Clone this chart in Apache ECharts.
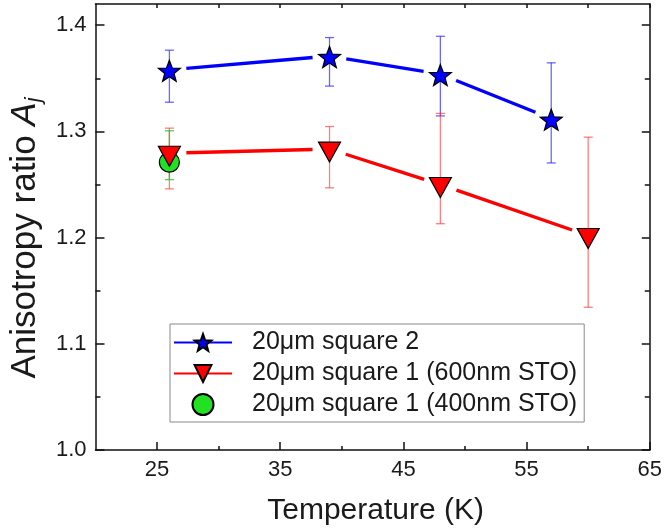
<!DOCTYPE html>
<html>
<head>
<meta charset="utf-8">
<script src="https://cdn.jsdelivr.net/npm/echarts@6/dist/echarts.min.js"></script>
<style>html,body{margin:0;padding:0;background:#fff;}#c{width:665px;height:531px;}</style>
</head>
<body>
<div id="c"></div>
<script>
// ---- data ----
const nameSq2 = '20μm square 2';
const nameSq1a = '20μm square 1 (600nm STO)';
const nameSq1b = '20μm square 1 (400nm STO)';

const tempSq2 = [26, 39, 48, 57];
const ratioSq2 = [1.358, 1.371, 1.354, 1.312];
const lowSq2 = [1.3275, 1.3427, 1.3146, 1.2703];
const highSq2 = [1.3765, 1.3884, 1.3896, 1.3646];

const tempSq1a = [26, 39, 48, 60];
const ratioSq1a = [1.2795, 1.2834, 1.250, 1.202];
const lowSq1a = [1.2459, 1.2469, 1.2131, 1.1344];
const highSq1a = [1.3031, 1.3046, 1.317, 1.2946];

const tempSq1b = [26];
const ratioSq1b = [1.271];
const lowSq1b = [1.2546];
const highSq1b = [1.3006];

const xMajorLabels = [25, 35, 45, 55, 65];
const xMinorTicks = [30, 40, 50, 60];
const yMajorLabels = [1.0, 1.1, 1.2, 1.3, 1.4];
const yMinorTicks = [1.05, 1.15, 1.25, 1.35];

// ---- build ----
const pts = (xs, ys) => xs.map((x, i) => [x, ys[i]]);
const errs = (xs, lo, hi) => xs.map((x, i) => [x, lo[i], hi[i]]);
const segs = (xs, ys) => xs.slice(1).map((x, i) => [xs[i], ys[i], x, ys[i + 1]]);

const starPath = 'path://M100 0 L124.7 66 L195.1 69.1 L139.9 113 L158.8 180.9 L100 142 L41.2 180.9 L60.1 113 L4.9 69.1 L75.3 66 Z';
const triPath = 'path://M0 0 L20 0 L10 18 Z';

function errorBar(color) {
  return function (params, api) {
    const x = api.value(0);
    const top = api.coord([x, api.value(2)]);
    const bot = api.coord([x, api.value(1)]);
    const h = 4.5;
    const style = { stroke: color, lineWidth: 1.3 };
    return {
      type: 'group',
      children: [
        { type: 'line', shape: { x1: top[0], y1: top[1], x2: bot[0], y2: bot[1] }, style },
        { type: 'line', shape: { x1: top[0] - h, y1: top[1], x2: top[0] + h, y2: top[1] }, style },
        { type: 'line', shape: { x1: bot[0] - h, y1: bot[1], x2: bot[0] + h, y2: bot[1] }, style }
      ]
    };
  };
}

// connecting segment with an open gap around each marker (Origin style)
function gapLine(color, gap) {
  return function (params, api) {
    const a = api.coord([api.value(0), api.value(1)]);
    const b = api.coord([api.value(2), api.value(3)]);
    const dx = b[0] - a[0], dy = b[1] - a[1];
    const len = Math.sqrt(dx * dx + dy * dy);
    const ux = dx / len, uy = dy / len;
    return {
      type: 'line',
      shape: { x1: a[0] + ux * gap, y1: a[1] + uy * gap, x2: b[0] - ux * gap, y2: b[1] - uy * gap },
      style: { stroke: color, lineWidth: 3.3, lineCap: 'butt' }
    };
  };
}

const blue = '#0000ff';
const red = '#ff0000';
const green = '#22e022';
const font = 'Liberation Sans, Arial, sans-serif';
const txt = '#1a1a1a';

const frame = { show: true, lineStyle: { color: '#111', width: 1.5 } };
const tickStyle = { color: '#111', width: 1.5 };

const option = {
  animation: false,
  backgroundColor: '#ffffff',
  textStyle: { fontFamily: font },
  grid: { left: 95, right: 14, top: 4, bottom: 79, containLabel: false },
  legend: {
    data: [nameSq2, nameSq1a, nameSq1b],
    orient: 'vertical',
    left: 170,
    top: 324,
    padding: [6, 7, 5, 3],
    itemWidth: 58,
    itemHeight: 21,
    itemGap: 6,
    borderColor: '#8a8a8a',
    borderWidth: 1,
    backgroundColor: '#fff',
    textStyle: { fontSize: 25, color: txt, fontFamily: font, padding: [0, 0, 0, 15] }
  },
  xAxis: [
    {
      type: 'value', position: 'bottom', min: 20, max: 65, interval: 5,
      axisLine: frame,
      axisTick: { show: true, inside: true, length: 8, customValues: xMajorLabels, lineStyle: tickStyle },
      axisLabel: { customValues: xMajorLabels, fontSize: 22, color: txt, margin: 9, fontFamily: font },
      splitLine: { show: false },
      name: 'Temperature (K)', nameLocation: 'middle', nameGap: 46,
      nameTextStyle: { fontSize: 30, color: txt, fontFamily: font, padding: [0, 0, 0, 6] }
    },
    {
      type: 'value', position: 'bottom', min: 20, max: 65, interval: 5,
      axisLine: { show: false },
      axisTick: { show: true, inside: true, length: 4, customValues: xMinorTicks, lineStyle: tickStyle },
      axisLabel: { show: false }, splitLine: { show: false }
    },
    {
      type: 'value', position: 'top', min: 20, max: 65, interval: 5,
      axisLine: frame,
      axisTick: { show: true, inside: true, length: 4, customValues: xMajorLabels.concat(xMinorTicks), lineStyle: tickStyle },
      axisLabel: { show: false }, splitLine: { show: false }
    }
  ],
  yAxis: [
    {
      type: 'value', position: 'left', min: 1.0, max: 1.42, interval: 0.1,
      axisLine: frame,
      axisTick: { show: true, inside: true, length: 9, customValues: yMajorLabels, lineStyle: tickStyle },
      axisLabel: { customValues: yMajorLabels, fontSize: 22, color: txt, margin: 9, fontFamily: font,
                   formatter: v => Number(v).toFixed(1) },
      splitLine: { show: false },
      name: '{n|Anisotropy ratio }{i|A}{s|j}', nameLocation: 'middle', nameGap: 50,
      nameTextStyle: {
        fontFamily: font, color: txt,
        rich: {
          n: { fontSize: 35, fontFamily: font, color: txt, verticalAlign: 'middle' },
          i: { fontSize: 35, fontFamily: font, color: txt, fontStyle: 'italic', verticalAlign: 'middle' },
          s: { fontSize: 22, fontFamily: font, color: txt, fontStyle: 'italic', verticalAlign: 'bottom', padding: [17, 22, 0, 0] }
        }
      }
    },
    {
      type: 'value', position: 'left', min: 1.0, max: 1.42, interval: 0.1,
      axisLine: { show: false },
      axisTick: { show: true, inside: true, length: 5, customValues: yMinorTicks, lineStyle: tickStyle },
      axisLabel: { show: false }, splitLine: { show: false }
    },
    {
      type: 'value', position: 'right', min: 1.0, max: 1.42, interval: 0.1,
      axisLine: frame,
      axisTick: { show: true, inside: true, length: 8, customValues: yMajorLabels, lineStyle: tickStyle },
      axisLabel: { show: false }, splitLine: { show: false }
    },
    {
      type: 'value', position: 'right', min: 1.0, max: 1.42, interval: 0.1,
      axisLine: { show: false },
      axisTick: { show: true, inside: true, length: 5, customValues: yMinorTicks, lineStyle: tickStyle },
      axisLabel: { show: false }, splitLine: { show: false }
    }
  ],
  series: [
    // legend carriers (line + symbol icon)
    {
      name: nameSq2, type: 'line', data: [],
      symbol: starPath, symbolSize: [21, 20],
      lineStyle: { color: blue, width: 3.2 },
      itemStyle: { color: blue, borderColor: '#000', borderWidth: 1.2, opacity: 1 }
    },
    {
      name: nameSq1a, type: 'line', data: [],
      symbol: triPath, symbolSize: [21, 19],
      lineStyle: { color: red, width: 3.2 },
      itemStyle: { color: red, borderColor: '#000', borderWidth: 1.2, opacity: 1 }
    },
    // connecting lines with gaps
    { type: 'custom', z: 1, silent: true, renderItem: gapLine(blue, 17),
      dimensions: ['x1', 'y1', 'x2', 'y2'], encode: { x: [0, 2], y: [1, 3] }, data: segs(tempSq2, ratioSq2) },
    { type: 'custom', z: 1, silent: true, renderItem: gapLine(red, 17),
      dimensions: ['x1', 'y1', 'x2', 'y2'], encode: { x: [0, 2], y: [1, 3] }, data: segs(tempSq1a, ratioSq1a) },
    // error bars
    { type: 'custom', z: 3, silent: true, renderItem: errorBar('rgba(40,40,255,0.7)'), encode: { x: 0, y: [1, 2] }, data: errs(tempSq2, lowSq2, highSq2) },
    { type: 'custom', z: 3, silent: true, renderItem: errorBar('rgba(255,40,40,0.6)'), encode: { x: 0, y: [1, 2] }, data: errs(tempSq1a, lowSq1a, highSq1a) },
    { type: 'custom', z: 3, silent: true, renderItem: errorBar('rgba(30,200,30,0.8)'), encode: { x: 0, y: [1, 2] }, data: errs(tempSq1b, lowSq1b, highSq1b) },
    // green circle
    {
      name: nameSq1b, type: 'scatter', z: 4, data: pts(tempSq1b, ratioSq1b),
      symbol: 'circle', symbolSize: 20,
      itemStyle: { color: green, borderColor: '#000', borderWidth: 1.2, opacity: 1 }
    },
    // markers on top
    {
      type: 'scatter', z: 5, data: pts(tempSq1a, ratioSq1a),
      symbol: triPath, symbolSize: [22, 20], symbolOffset: [0, 3],
      itemStyle: { color: red, borderColor: '#000', borderWidth: 1.2, opacity: 1 }
    },
    {
      type: 'scatter', z: 5, data: pts(tempSq2, ratioSq2),
      symbol: starPath, symbolSize: [22, 21], symbolOffset: [0, 1],
      itemStyle: { color: blue, borderColor: '#000', borderWidth: 1.2, opacity: 1 }
    }
  ]
};

const chart = echarts.init(document.getElementById('c'), null, { renderer: 'canvas' });
chart.setOption(option);
</script>
</body>
</html>
